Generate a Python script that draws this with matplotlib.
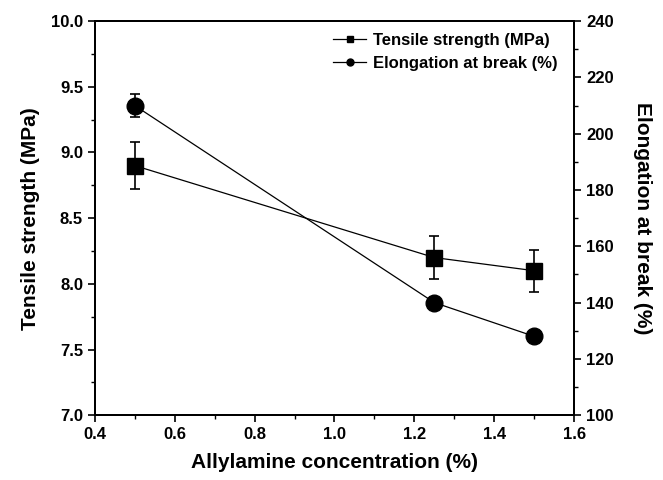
import numpy as np
import matplotlib
matplotlib.use("Agg")
import matplotlib.pyplot as plt
from matplotlib.ticker import MultipleLocator
from matplotlib.lines import Line2D

plt.rcParams['font.family'] = ['Liberation Sans', 'DejaVu Sans']
plt.rcParams['font.weight'] = 'bold'

# data
conc = [0.5, 1.25, 1.5]
tensile = [8.9, 8.2, 8.1]
tensile_err = [0.18, 0.165, 0.16]
elong = [210, 140, 128]
elong_err = [4, 2, 1]

fig = plt.figure(figsize=(6.63, 4.8), dpi=100)
ax = fig.add_axes([0.143, 0.135, 0.723, 0.821])
ax2 = ax.twinx()

ax.errorbar(conc, tensile, yerr=tensile_err, color='black', marker='s', markersize=12,
            linewidth=0.9, elinewidth=1.2, capsize=3.5, capthick=1.2)
ax2.errorbar(conc, elong, yerr=elong_err, color='black', marker='o', markersize=12,
             linewidth=0.9, elinewidth=1.2, capsize=3.5, capthick=1.2)

ax.set_xlim(0.4, 1.6)
ax.set_ylim(7.0, 10.0)
ax2.set_ylim(100, 240)
ax.xaxis.set_major_locator(MultipleLocator(0.2))
ax.xaxis.set_minor_locator(MultipleLocator(0.1))
ax.yaxis.set_major_locator(MultipleLocator(0.5))
ax.yaxis.set_minor_locator(MultipleLocator(0.25))
ax2.yaxis.set_major_locator(MultipleLocator(20))
ax2.yaxis.set_minor_locator(MultipleLocator(10))
ax.xaxis.set_major_formatter(plt.FormatStrFormatter('%.1f'))
ax.yaxis.set_major_formatter(plt.FormatStrFormatter('%.1f'))

for a in (ax, ax2):
    a.tick_params(which='major', direction='out', length=5, width=1.2, labelsize=12)
    a.tick_params(which='minor', direction='out', length=3, width=1.0)
    for s in a.spines.values():
        s.set_linewidth(1.4)

ax.set_xlabel('Allylamine concentration (%)', fontsize=15, fontweight='bold', labelpad=8)
ax.set_ylabel('Tensile strength (MPa)', fontsize=15, fontweight='bold', labelpad=8)
ax2.set_ylabel('Elongation at break (%)', fontsize=15, fontweight='bold',
               rotation=270, labelpad=28)

handles = [Line2D([], [], color='black', marker='s', markersize=5, linewidth=0.9),
           Line2D([], [], color='black', marker='o', markersize=5, linewidth=0.9)]
ax.legend(handles, ['Tensile strength (MPa)', 'Elongation at break (%)'],
          loc='upper right', frameon=False, fontsize=12,
          handlelength=2.0, handletextpad=0.4, borderaxespad=0.3,
          bbox_to_anchor=(0.99, 1.0))

fig.savefig('out.png', dpi=100)
